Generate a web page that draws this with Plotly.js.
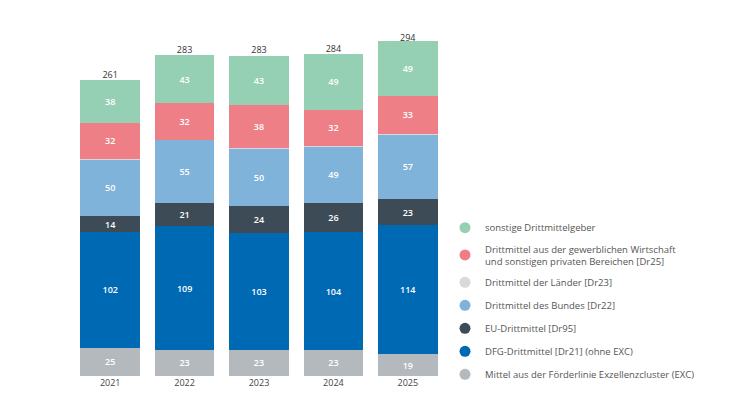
<!DOCTYPE html>
<html><head><meta charset="utf-8">
<script src="https://cdn.plot.ly/plotly-3.0.1.min.js"></script>
<style>html,body{margin:0;padding:0;background:#fff}#c{width:733px;height:414px}</style>
</head><body><div id="c"></div>
<script>
const years = ['2021','2022','2023','2024','2025'];
const exc      = [25, 23, 23, 23, 19];
const dfg      = [102, 109, 103, 104, 114];
const eu       = [14, 21, 24, 26, 23];
const bund     = [50, 55, 50, 49, 57];
const laender  = [0.5, 0.5, 1.5, 1, 1];
const wirtsch  = [32, 32, 38, 32, 33];
const sonstige = [38, 43, 43, 49, 49];
const totals   = [261, 283, 283, 284, 294];

const names = [
  'Mittel aus der Förderlinie Exzellenzcluster (EXC)',
  'DFG-Drittmittel [Dr21] (ohne EXC)',
  'EU-Drittmittel [Dr95]',
  'Drittmittel des Bundes [Dr22]',
  'Drittmittel der Länder [Dr23]',
  'Drittmittel aus der gewerblichen Wirtschaft<br>und sonstigen privaten Bereichen [Dr25]',
  'sonstige Drittmittelgeber'
];
const series = [exc, dfg, eu, bund, laender, wirtsch, sonstige];
const colors = ['#b4b9bd', '#0069b4', '#3d4b56', '#7fb3da', '#d7d9db', '#ee7f86', '#95d0b4'];
const showText = [true, true, true, true, false, true, true];

const traces = [];
series.forEach((vals, i) => {
  traces.push({
    type: 'bar', x: years, y: vals, name: names[i],
    marker: {color: colors[i], line: {width: 0}},
    text: showText[i] ? vals.map(String) : null,
    textposition: showText[i] ? 'inside' : 'none',
    insidetextanchor: 'middle', textangle: 0,
    textfont: {color: '#ffffff', size: 9, family: 'Open Sans, sans-serif', weight: 600},
    hoverinfo: 'skip', showlegend: false
  });
});
// legend entries with circle markers, top item first
for (let i = series.length - 1; i >= 0; i--) {
  traces.push({
    type: 'scatter', mode: 'markers', x: [null], y: [null], name: names[i],
    marker: {color: colors[i], symbol: 'circle', size: 11},
    legendgroup: 'g' + (series.length - 1 - i), showlegend: true, hoverinfo: 'skip'
  });
}
traces.push({
  type: 'scatter', mode: 'text', x: years, y: totals,
  text: totals.map(String), textposition: 'top center',
  textfont: {size: 9, color: '#333', family: 'Open Sans, sans-serif'},
  showlegend: false, hoverinfo: 'skip'
});

const layout = {
  width: 733, height: 414,
  margin: {l: 73, r: 288, t: 10, b: 38},
  barmode: 'stack', bargap: 0.2,
  uniformtext: {minsize: 9, mode: 'show'},
  paper_bgcolor: '#fff', plot_bgcolor: '#fff',
  font: {family: 'Open Sans, sans-serif', color: '#444'},
  xaxis: {type: 'category', showgrid: false, zeroline: false, showline: false,
          tickfont: {size: 9, color: '#444'}, ticks: '', ticklen: 0},
  yaxis: {range: [0, 323], visible: false},
  showlegend: true,
  legend: {x: 1.0, xanchor: 'left', y: 0.445, yanchor: 'top',
           traceorder: 'grouped', tracegroupgap: 4,
           font: {size: 9.5, color: '#555'}, itemwidth: 30, bgcolor: 'rgba(0,0,0,0)'}
};
Plotly.newPlot('c', traces, layout, {displayModeBar: false, staticPlot: true});
</script></body></html>
